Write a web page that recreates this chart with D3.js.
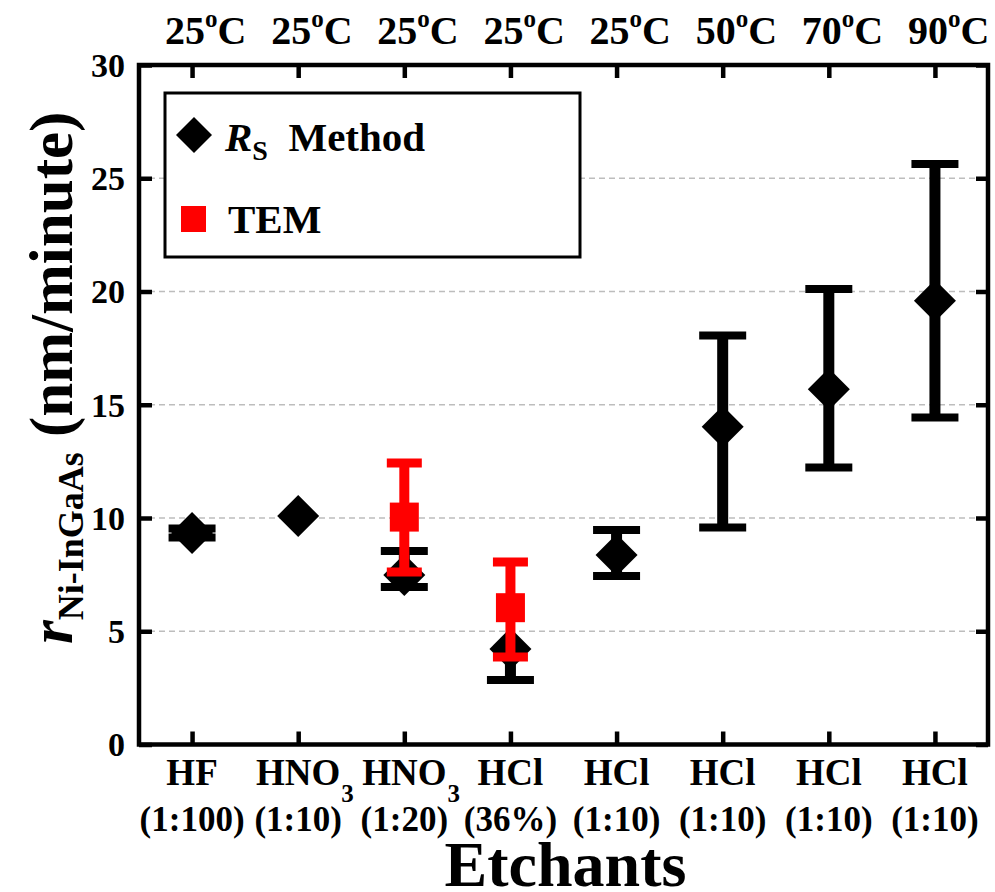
<!DOCTYPE html>
<html>
<head>
<meta charset="utf-8">
<script src="https://cdn.jsdelivr.net/npm/d3@7"></script>
<style>
  html, body { margin: 0; padding: 0; background: #fff; }
  svg { display: block; }
  text { font-family: "Liberation Serif", "Times New Roman", serif; font-weight: bold; fill: #000; }
</style>
</head>
<body>
<svg id="chart" width="995" height="892"></svg>
<script>
// Etchant categories along the x axis
const etchants = ["HF", "HNO3", "HNO3", "HCl", "HCl", "HCl", "HCl", "HCl"];
const concentrations = ["(1:100)", "(1:10)", "(1:20)", "(36%)", "(1:10)", "(1:10)", "(1:10)", "(1:10)"];
const temperatures = [25, 25, 25, 25, 25, 50, 70, 90];

// Etch rate from sheet-resistance (R_S) method, nm/minute
const rsValue = [9.34, 10.09, 7.48, 4.22, 8.37, 14.03, 15.68, 19.59];
const rsLow   = [9.14, 10.09, 6.95, 2.85, 7.44, 9.58, 12.23, 14.44];
const rsHigh  = [9.54, 10.09, 8.54, 4.22, 9.47, 18.06, 20.11, 25.63];

// Etch rate from TEM, nm/minute
const temIndex = [2, 3];
const temValue = [10.04, 6.04];
const temLow   = [7.62, 3.86];
const temHigh  = [12.43, 8.06];

const yTicks = [0, 5, 10, 15, 20, 25, 30];
const gridTicks = [5, 10, 15, 20, 25];

const svg = d3.select("#chart");
const plotL = 139, plotR = 988, plotT = 65, plotB = 744.5;

const x = d3.scaleLinear().domain([-0.5, etchants.length - 0.5]).range([plotL, plotR]);
const y = d3.scaleLinear().domain([0, 30]).range([plotB, plotT]);
const idx = d3.range(etchants.length);

// Dashed horizontal grid
svg.append("g").selectAll("line").data(gridTicks).join("line")
  .attr("x1", plotL).attr("x2", plotR)
  .attr("y1", d => y(d)).attr("y2", d => y(d))
  .attr("stroke", "#bdbdbd").attr("stroke-width", 1.5)
  .attr("stroke-dasharray", "6,4");

// Axes with inward ticks on all four sides
const axisStyle = g => {
  g.select(".domain").remove();
  g.selectAll(".tick line").attr("stroke", "#000").attr("stroke-width", 4.5);
};
svg.append("g").attr("transform", `translate(${plotL},0)`)
  .call(d3.axisRight(y).tickValues(yTicks).tickSize(13).tickFormat(""))
  .call(axisStyle);
svg.append("g").attr("transform", `translate(${plotR},0)`)
  .call(d3.axisLeft(y).tickValues(yTicks).tickSize(12).tickFormat(""))
  .call(axisStyle);
svg.append("g").attr("transform", `translate(0,${plotB})`)
  .call(d3.axisTop(x).tickValues(idx).tickSize(13).tickFormat(""))
  .call(axisStyle);
svg.append("g").attr("transform", `translate(0,${plotT})`)
  .call(d3.axisBottom(x).tickValues(idx).tickSize(13).tickFormat(""))
  .call(axisStyle);

// Y tick labels
svg.append("g").selectAll("text").data(yTicks).join("text")
  .attr("x", plotL - 14).attr("y", d => y(d)).attr("dy", "0.35em")
  .attr("text-anchor", "end").style("font-size", "34px")
  .text(d => d);

// Frame
svg.append("rect")
  .attr("x", plotL).attr("y", plotT)
  .attr("width", plotR - plotL).attr("height", plotB - plotT)
  .attr("fill", "none").attr("stroke", "#000").attr("stroke-width", 4.5);

// Error bar drawing helper
function errorBars(g, data, color, barW, capW, capT) {
  g.selectAll("line.bar").data(data).join("line").attr("class", "bar")
    .attr("x1", d => x(d.i)).attr("x2", d => x(d.i))
    .attr("y1", d => y(d.lo)).attr("y2", d => y(d.hi))
    .attr("stroke", color).attr("stroke-width", barW);
  g.selectAll("line.capHi").data(data.filter(d => d.hi > d.v)).join("line").attr("class", "capHi")
    .attr("x1", d => x(d.i) - capW / 2).attr("x2", d => x(d.i) + capW / 2)
    .attr("y1", d => y(d.hi)).attr("y2", d => y(d.hi))
    .attr("stroke", color).attr("stroke-width", capT);
  g.selectAll("line.capLo").data(data.filter(d => d.lo < d.v)).join("line").attr("class", "capLo")
    .attr("x1", d => x(d.i) - capW / 2).attr("x2", d => x(d.i) + capW / 2)
    .attr("y1", d => y(d.lo)).attr("y2", d => y(d.lo))
    .attr("stroke", color).attr("stroke-width", capT);
}

const rsData = idx.map(i => ({ i, v: rsValue[i], lo: rsLow[i], hi: rsHigh[i] }));
const temData = temIndex.map((i, k) => ({ i, v: temValue[k], lo: temLow[k], hi: temHigh[k] }));

// R_S method series: black diamonds
const rsG = svg.append("g");
errorBars(rsG, rsData, "#000", 11, 47, 8);
const diamond = r => `M0,${-r}L${r},0L0,${r}L${-r},0Z`;
rsG.selectAll("path").data(rsData).join("path")
  .attr("transform", d => `translate(${x(d.i)},${y(d.v)})`)
  .attr("d", diamond(21)).attr("fill", "#000");

// TEM series: red squares
const temG = svg.append("g");
errorBars(temG, temData, "#ff0000", 10, 35, 9);
temG.selectAll("rect").data(temData).join("rect")
  .attr("x", d => x(d.i) - 14.5).attr("y", d => y(d.v) - 14.5)
  .attr("width", 29).attr("height", 29).attr("fill", "#ff0000");

// Top temperature labels
const tempG = svg.append("g");
idx.forEach(i => {
  const t = tempG.append("text").attr("x", x(i) - 27).attr("y", 44).style("font-size", "40px");
  t.append("tspan").text(temperatures[i]);
  t.append("tspan").attr("dy", -17).style("font-size", "25px").text("o");
  t.append("tspan").attr("dy", 17).text("C");
});

// Bottom etchant labels, trailing digits drawn as subscripts
const xlabG = svg.append("g");
idx.forEach(i => {
  const m = etchants[i].match(/^(.*?)(\d*)$/);
  const base = xlabG.append("text").attr("x", x(i)).attr("y", 785)
    .attr("text-anchor", "middle").style("font-size", "37px").text(m[1]);
  if (m[2]) {
    const w = base.node().getComputedTextLength();
    xlabG.append("text").attr("x", x(i) + w / 2 + 1).attr("y", 802)
      .style("font-size", "25px").text(m[2]);
  }
  xlabG.append("text").attr("x", x(i)).attr("y", 831)
    .attr("text-anchor", "middle").style("font-size", "35px").text(concentrations[i]);
});

// X axis title
svg.append("text").attr("x", (plotL + plotR) / 2 + 2).attr("y", 886)
  .attr("text-anchor", "middle").style("font-size", "64px").text("Etchants");

// Y axis title
const yt = svg.append("text").attr("transform", "translate(72,644) rotate(-90)")
  .style("font-size", "61px");
yt.append("tspan").style("font-style", "italic").text("r");
yt.append("tspan").attr("dy", 11).style("font-size", "36px").text("Ni-InGaAs");
yt.append("tspan").attr("dy", -11).text(" (nm/minute)");

// Legend
const lg = svg.append("g");
lg.append("rect").attr("x", 165).attr("y", 93).attr("width", 415).attr("height", 164)
  .attr("fill", "#fff").attr("stroke", "#000").attr("stroke-width", 3);
lg.append("path").attr("transform", "translate(194,135)").attr("d", diamond(18)).attr("fill", "#000");
const l1 = lg.append("text").attr("x", 225).attr("y", 151).style("font-size", "41px");
l1.append("tspan").style("font-style", "italic").text("R");
l1.append("tspan").attr("dy", 9).style("font-size", "28px").text("S");
l1.append("tspan").attr("dy", -9).text("\u00a0 Method");
lg.append("rect").attr("x", 181).attr("y", 206).attr("width", 25).attr("height", 26).attr("fill", "#ff0000");
lg.append("text").attr("x", 228).attr("y", 233).style("font-size", "41px").text("TEM");
</script>
</body>
</html>
